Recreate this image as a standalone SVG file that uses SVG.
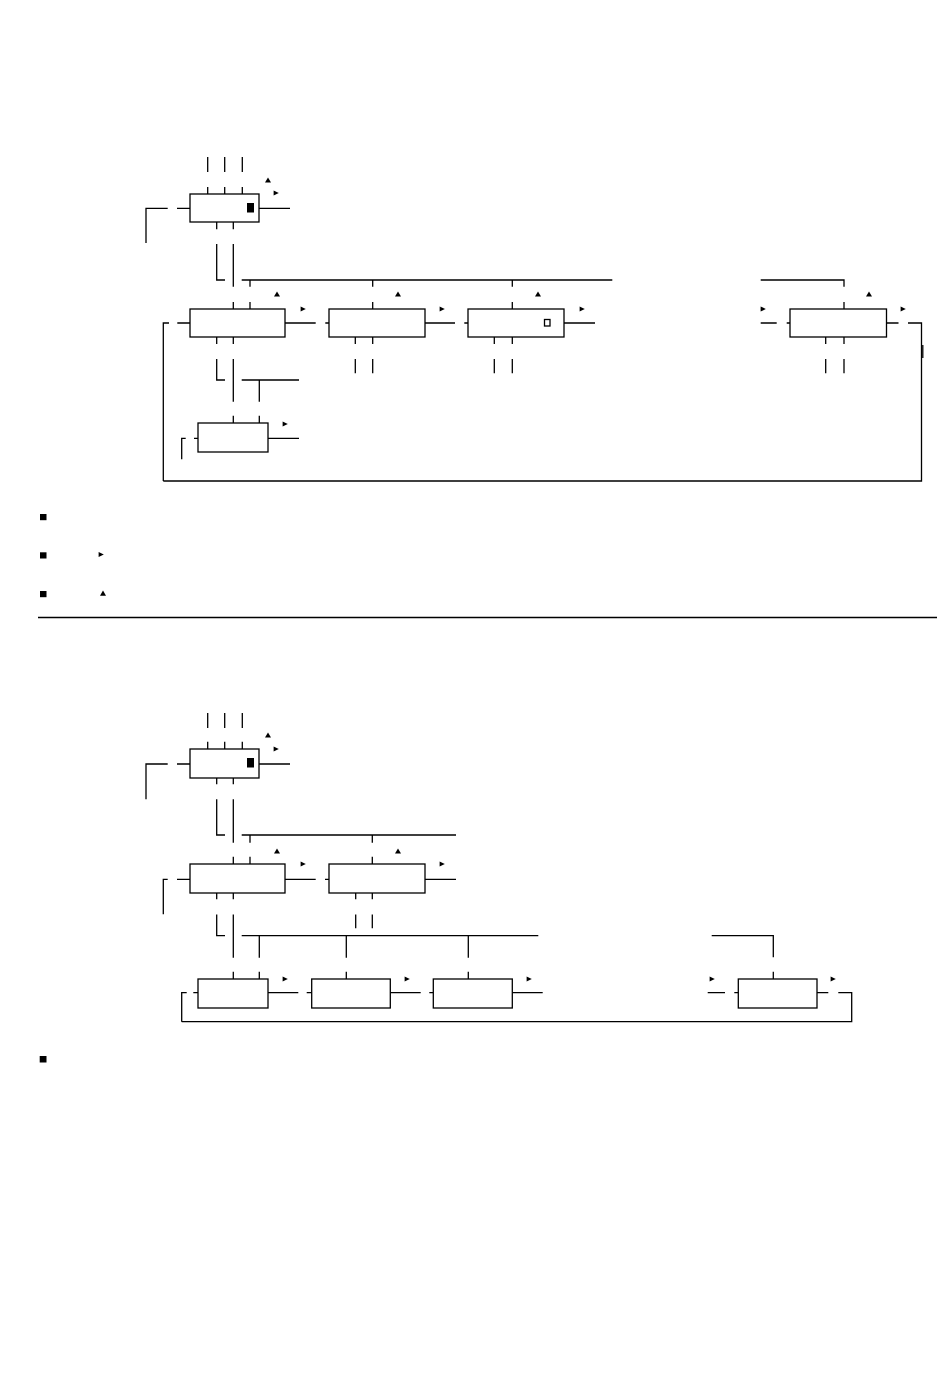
<svg xmlns="http://www.w3.org/2000/svg" xmlns:xlink="http://www.w3.org/1999/xlink" width="950" height="1398" viewBox="0 0 950 1398">
<style>
.bx{fill:#fff;stroke:#000;stroke-width:1.3}
.ln{fill:none;stroke:#000;stroke-width:1.3}
.blk{fill:#000}
.tri{fill:#000}
</style>
<defs>
<path id="tu" d="M0,-2.6 L3,2.6 L-3,2.6Z"/>
<path id="tr" d="M-2.4,-2.6 L2.8,0 L-2.4,2.6Z"/>
</defs>
<rect width="950" height="1398" fill="#fff"/>

<!-- ===== Upper diagram ===== -->
<g id="connectors-top" class="ln">
<path d="M207.7,157V172M224.7,157V172M242.3,157V172M207.7,187V194M224.7,187V194M242.3,187V194"/>
<path d="M146,243V208.3H167.7M177,208.3H190M259,208.3H290"/>
<path d="M216.7,222V229.3M233.3,222V229.3M216.7,244V280H225M233.3,244V286.7M241.7,280H612.3M250,280V286.7M372.7,280V286.7M512.3,280V286.7"/>
<path d="M760.7,280H844V286.7"/>
<path d="M233.3,302V309M250,302V309M372.7,302V309M512.3,302V309M844,302V309"/>
<path d="M163.3,481V323H169M177.3,323H190M285,323H315.7M325.3,323H329M425,323H455M464.3,323H468M564,323H595M760.7,323H776.7M786.7,323H790M886.7,323H898.5M908,323H921.5V481H163.3"/>
<path d="M922.8,345V358"/>
<path d="M216.7,337V344M233.3,337V344M216.7,359V380H225M233.3,359V401.7M241.7,380H299M259.3,380V401.7"/>
<path d="M355.3,337V344M372.7,337V344M355.3,359V373.3M372.7,359V373.3"/>
<path d="M494.3,337V344M512.3,337V344M494.3,359V373.3M512.3,359V373.3"/>
<path d="M825.7,337V344M844,337V344M825.7,359V373.3M844,359V373.3"/>
<path d="M233.3,415.7V423M259.3,415.7V423M268,438.3H299M181.7,459.3V438.3H185.7M194,438.3H198"/>
</g>
<g id="markers-top" class="tri">
<use xlink:href="#tu" x="268" y="180"/><use xlink:href="#tr" x="276" y="193"/>
<use xlink:href="#tu" x="277" y="294"/><use xlink:href="#tr" x="303" y="309"/>
<use xlink:href="#tu" x="398" y="294"/><use xlink:href="#tr" x="442" y="309"/>
<use xlink:href="#tu" x="538" y="294"/><use xlink:href="#tr" x="582" y="309"/>
<use xlink:href="#tr" x="763" y="309"/><use xlink:href="#tu" x="869" y="294"/><use xlink:href="#tr" x="903" y="309"/>
<use xlink:href="#tr" x="285" y="424"/>
</g>
<g id="t-node-main"><rect class="bx" x="190" y="194" width="69" height="28"/><rect class="blk" x="247" y="203" width="7" height="9.5"/></g>
<g id="t-node-1"><rect class="bx" x="190" y="309" width="95" height="28"/></g>
<g id="t-node-2"><rect class="bx" x="329" y="309" width="96" height="28"/></g>
<g id="t-node-3"><rect class="bx" x="468" y="309" width="96" height="28"/><rect x="544.5" y="319.5" width="5.5" height="6.5" fill="#fff" stroke="#000" stroke-width="1.3"/></g>
<g id="t-node-n"><rect class="bx" x="790" y="309" width="96.5" height="28"/></g>
<g id="t-node-sub"><rect class="bx" x="198" y="423" width="70" height="29"/></g>

<!-- legend -->
<g id="legend">
<rect class="blk" x="40" y="514" width="6.5" height="6.2"/>
<rect class="blk" x="40" y="552.3" width="6.5" height="6.2"/>
<rect class="blk" x="40" y="591" width="6.5" height="6.2"/>
<use class="tri" xlink:href="#tr" x="101" y="554.5"/>
<use class="tri" xlink:href="#tu" x="103" y="593.2"/>
</g>
<path d="M38,617.5H937" stroke="#000" stroke-width="1.5" fill="none"/>

<!-- ===== Lower diagram ===== -->
<g id="connectors-bottom" class="ln">
<path d="M207.7,713V728M224.7,713V728M242.3,713V728M207.7,741.7V749M224.7,741.7V749M242.3,741.7V749"/>
<path d="M146,799.3V764H167.7M177,764H190M259,764H290"/>
<path d="M216.7,778V784.3M233.3,778V784.3M216.7,799.3V835H225M233.3,799.3V842.7M241.7,835H456M250,835V842.7M372.3,835V842.7"/>
<path d="M233.3,856.7V864M250,856.7V864M372.3,856.7V864"/>
<path d="M163.3,914.3V879.3H167.7M177,879.3H190M285,879.3H315.7M325,879.3H329M425,879.3H456"/>
<path d="M216.7,893V899.3M233.3,893V899.3M216.7,914.5V935.7H225M233.3,914.5V957.7M241.7,935.7H538.3M259.3,935.7V957.7M346.3,935.7V957.7M468.3,935.7V957.7"/>
<path d="M355.7,893V899.3M372.3,893V899.3M355.7,914.5V928.3M372.3,914.5V928.3"/>
<path d="M711.7,935.7H773.3V957.3"/>
<path d="M233.3,971.7V979M259.3,971.7V979M346.3,971.7V979M468.3,971.7V979M773.3,971.7V979"/>
<path d="M181.7,1021.7V992.7H186.7M193.3,992.7H198M268,992.7H298.3M306.7,992.7H311.7M390.3,992.7H420.7M429.3,992.7H433.3M512.3,992.7H542.7M707.7,992.7H725M734.3,992.7H738.3M817,992.7H828.3M838.3,992.7H851.7V1021.7H181.7"/>
<path d="M815.7,988.3V1003.3"/>
</g>
<g id="markers-bottom" class="tri">
<use xlink:href="#tu" x="268" y="735"/><use xlink:href="#tr" x="276" y="749"/>
<use xlink:href="#tu" x="277" y="851"/><use xlink:href="#tr" x="303" y="864"/>
<use xlink:href="#tu" x="398" y="851"/><use xlink:href="#tr" x="442" y="864"/>
<use xlink:href="#tr" x="285" y="979"/><use xlink:href="#tr" x="407" y="979"/><use xlink:href="#tr" x="529" y="979"/>
<use xlink:href="#tr" x="712" y="979"/><use xlink:href="#tr" x="833" y="979"/>
</g>
<g id="b-node-main"><rect class="bx" x="190" y="749" width="69" height="29"/><rect class="blk" x="247" y="758" width="7" height="9.5"/></g>
<g id="b-node-1"><rect class="bx" x="190" y="864" width="95" height="29"/></g>
<g id="b-node-2"><rect class="bx" x="329" y="864" width="96" height="29"/></g>
<g id="b-node-a"><rect class="bx" x="198" y="979" width="70" height="29"/></g>
<g id="b-node-b"><rect class="bx" x="311.7" y="979" width="78.6" height="29"/></g>
<g id="b-node-c"><rect class="bx" x="433.3" y="979" width="79" height="29"/></g>
<g id="b-node-n"><rect class="bx" x="738.3" y="979" width="78.7" height="29"/></g>
<g id="legend-2"><rect class="blk" x="39.7" y="1056" width="6.8" height="6.5"/></g>
</svg>
